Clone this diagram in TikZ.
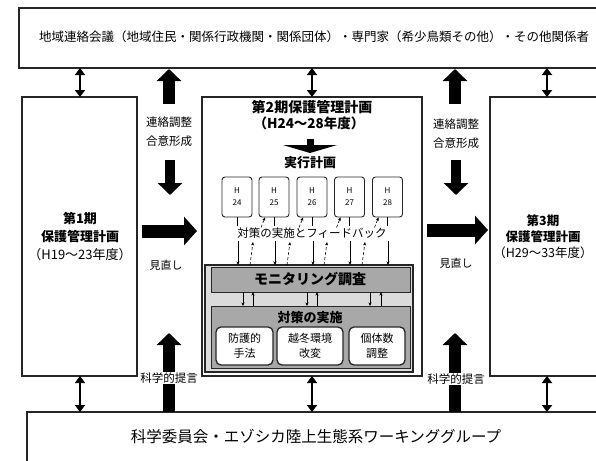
\documentclass[tikz,border=0pt]{standalone}
\usepackage{fontspec}
\setmainfont{Noto Sans CJK JP}
\usetikzlibrary{arrows.meta,calc}
\definecolor{gLight}{gray}{0.86}
\definecolor{gDark}{gray}{0.66}
\definecolor{lineC}{gray}{0.15}
\tikzset{
  frame/.style={draw=lineC, line width=1.2pt, fill=white, inner sep=0pt},
  txt/.style={inner sep=0pt, align=center, text=black},
  wtxt/.style={inner sep=1pt, align=center, fill=white, text=black},
  dbl/.style={line width=2.6pt, draw=black, {Triangle[width=10pt,length=7pt]}-{Triangle[width=10pt,length=7pt]}},
  bigup/.style={line width=12pt, draw=black, -{Triangle[width=24pt,length=12pt]}},
  bigdown/.style={line width=10pt, draw=black, -{Triangle[width=24pt,length=12pt]}},
  bigright/.style={line width=13pt, draw=black, -{Triangle[width=28pt,length=13pt]}},
  hbox/.style={draw=lineC, line width=0.9pt, rounded corners=3pt, fill=white, minimum width=30pt, minimum height=40pt, inner sep=0pt, align=center},
  gbar/.style={draw=lineC, line width=0.9pt, fill=gDark, inner sep=0pt},
  wbox/.style={draw=lineC, line width=1.3pt, rounded corners=5pt, fill=white, inner sep=0pt, align=center},
  fb/.style={line width=0.6pt, draw=black, -{Stealth[length=3.5pt,width=3pt]}},
  fbd/.style={line width=0.6pt, draw=black, densely dashed, -{Stealth[length=3.5pt,width=3pt]}},
  fbl/.style={line width=0.6pt, draw=black}
}
\begin{document}
\begin{tikzpicture}[x=1pt,y=-1pt]
\useasboundingbox (0,0) rectangle (596,460);
\clip (0,0) rectangle (596,460);
\fill[white] (0,0) rectangle (596,460);

% main frames
\node[frame, minimum width=601pt, minimum height=60pt] (top) at (319.5,38) {};
\node[txt, font=\fontsize{12.5}{14}\selectfont] (toptxt) at (314,37) {地域連絡会議（地域住民・関係行政機関・関係団体）・専門家（希少鳥類その他）・その他関係者};

\node[frame, minimum width=115pt, minimum height=279pt] (lbox) at (79.5,236.5) {};
\node[txt, font=\fontsize{13}{18}\selectfont\bfseries] (ltxt) at (80,236) {第1期\\保護管理計画\\{\mdseries（H19～23年度）}};

\node[frame, minimum width=220pt, minimum height=279pt] (cbox) at (312,236.5) {};

\node[frame, minimum width=120pt, minimum height=279pt] (rbox) at (550,236.5) {};
\node[txt, font=\fontsize{12.5}{16}\selectfont\bfseries] (rtxt) at (543,237) {第3期\\保護管理計画\\{\mdseries（H29～33年度）}};

\node[frame, minimum width=593pt, minimum height=60pt] (bot) at (323.5,442) {};
\node[txt, font=\fontsize{15.5}{17}\selectfont] (bottxt) at (316,437) {科学委員会・エゾシカ陸上生態系ワーキンググループ};

% small double arrows
\draw[dbl] (80,68) -- (80,97);
\draw[dbl] (312,68) -- (312,97);
\draw[dbl] (547,68) -- (547,97);
\draw[dbl] (80,376) -- (80,412);
\draw[dbl] (312,376) -- (312,412);
\draw[dbl] (547,376) -- (547,412);

% left column
\draw[bigup] (169,104) -- (169,69);
\node[wtxt, font=\fontsize{11.5}{19}\selectfont] (lcoord) at (169,132) {連絡調整\\合意形成};
\draw[bigdown] (170,160) -- (170,195);
\draw[bigright] (142,231) -- (197,231);
\node[txt, font=\fontsize{11}{13}\selectfont] (lrev) at (166,265) {見直し};
\draw[bigup] (169,412) -- (169,333);
\node[wtxt, font=\fontsize{11.5}{13}\selectfont] (lsci) at (169,378) {科学的提言};

% right column
\draw[bigup] (455,104) -- (455,69);
\node[wtxt, font=\fontsize{11.5}{19}\selectfont] (rcoord) at (456,134) {連絡調整\\合意形成};
\draw[bigdown] (456,160) -- (456,195);
\draw[bigright] (427,230) -- (488,230);
\node[txt, font=\fontsize{11}{13}\selectfont] (rrev) at (456,263) {見直し};
\draw[bigup] (455,412) -- (455,333);
\node[wtxt, font=\fontsize{11.5}{13}\selectfont] (rsci) at (456,379) {科学的提言};

% center box content
\node[txt, font=\fontsize{14}{16}\selectfont\bfseries] (c2title) at (312,107) {第2期保護管理計画};
\node[txt, font=\fontsize{13.5}{16}\selectfont\bfseries] (c2years) at (309,123) {（H24～28年度）};
\draw[line width=7pt, draw=black, -{Triangle[width=54pt,length=8pt]}] (310,139) -- (310,153);
\node[txt, font=\fontsize{13}{15}\selectfont\bfseries] (jikko) at (310,163) {実行計画};

\foreach \i/\x/\y in {1/237/24,2/274/25,3/312/26,4/349.5/27,5/387.5/28}{
  \node[hbox, font=\fontsize{8}{12}\selectfont] (h\i) at (\x,197) {H\\\y};
}
\node[txt, font=\fontsize{11.5}{13}\selectfont] (fbt) at (312,233) {対策の実施とフィードバック};

\foreach \i in {1,...,5}{
  \draw[fbl] (h\i.south) -- ++(0,9);
}
\foreach \i in {2,...,5}{
  \draw[fbd] ($(h\i.south)+(-13,10)$) -- ($(h\i.south)+(-9,0)$);
}

% monitoring group
\node[draw=lineC, line width=1.1pt, fill=gLight, minimum width=208pt, minimum height=107pt, inner sep=0pt] (grp) at (309,318.5) {};
\node[gbar, minimum width=199pt, minimum height=25pt] (mon) at (310.5,279.5) {};
\node[txt, font=\fontsize{14}{16}\selectfont\bfseries] (montxt) at (310,279.5) {モニタリング調査};
\node[gbar, minimum width=199pt, minimum height=62pt] (act) at (310.5,337) {};
\node[txt, font=\fontsize{13}{15}\selectfont\bfseries] (acttxt) at (310,318) {対策の実施};
\node[wbox, minimum width=57pt, minimum height=38pt, font=\fontsize{11}{15}\selectfont] (w1) at (244.5,346) {防護的\\手法};
\node[wbox, minimum width=66pt, minimum height=38pt, font=\fontsize{11}{15}\selectfont] (w2) at (310,346) {越冬環境\\改変};
\node[wbox, minimum width=56pt, minimum height=38pt, font=\fontsize{11}{15}\selectfont] (w3) at (377,346) {個体数\\調整};

% feedback text -> monitoring
\foreach \x in {238,275,313,350,388}{
  \draw[fb] (\x,241) -- (\x,265);
}
\foreach \x in {250,287,324,362}{
  \draw[fbd] (\x,265) -- (\x+3,242);
}
% monitoring <-> actions
\foreach \x in {243,307,370}{
  \draw[fb] (\x,292) -- (\x,306);
}
\foreach \x in {253,317,381}{
  \draw[fb] (\x,306) -- (\x,292);
}
\end{tikzpicture}
\end{document}
